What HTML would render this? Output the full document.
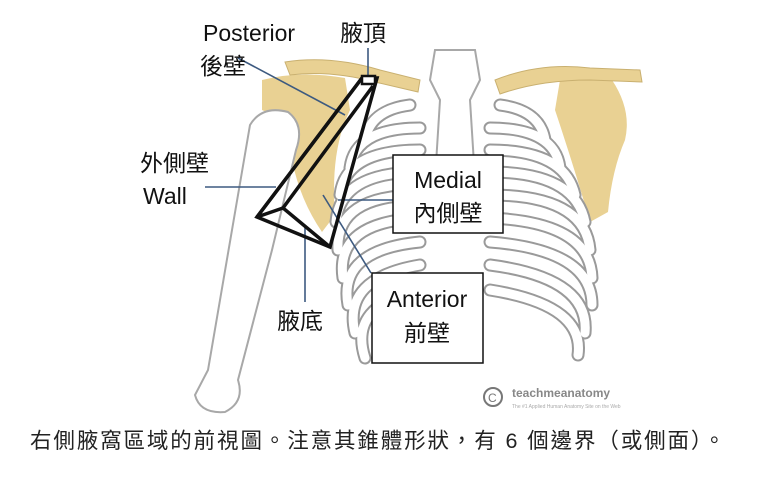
<!DOCTYPE html>
<html><head><meta charset="utf-8"><style>
body{margin:0;background:#fff;width:760px;height:482px;overflow:hidden;font-family:"Liberation Sans","Noto Sans CJK TC",sans-serif}
</style></head><body>
<svg width="760" height="482" viewBox="0 0 760 482" xmlns="http://www.w3.org/2000/svg" font-family="Liberation Sans, Noto Sans CJK TC, sans-serif">
<rect width="760" height="482" fill="#fff"/>
<path d="M262 80 Q300 70 345 78 L350 110 Q330 150 335 215 L322 232 Q300 200 292 160 Q285 120 262 110 Z" fill="#e9d193"/>
<path d="M612 80 Q600 60 560 80 L555 110 Q575 170 590 222 L608 212 Q612 170 625 140 Q632 110 612 80 Z" fill="#e9d193"/>
<path d="M285 62 Q330 55 380 70 L420 80 L418 92 L375 82 Q330 70 290 75 Z" fill="#e9d193" stroke="#c9b070" stroke-width="1"/>
<path d="M495 80 Q540 62 590 68 L640 70 L642 82 L590 80 Q540 80 500 94 Z" fill="#e9d193" stroke="#c9b070" stroke-width="1"/>
<g fill="none" stroke="#9a9a9a" stroke-width="13" stroke-linecap="round">
<path d="M410 105 Q370 110 365 140"/><path d="M500 105 Q540 110 545 140"/>
<path d="M420 128 Q355 128 350 168"/><path d="M490 128 Q555 128 560 168"/>
<path d="M420 150 Q345 150 340 195"/><path d="M490 150 Q565 150 575 195"/>
<path d="M420 172 Q340 172 336 222"/><path d="M490 172 Q575 172 585 222"/>
<path d="M420 195 Q335 195 338 250"/><path d="M490 195 Q585 195 590 250"/>
<path d="M420 218 Q335 222 343 278"/><path d="M490 218 Q590 222 592 278"/>
<path d="M420 242 Q338 250 348 305"/><path d="M490 242 Q592 250 592 305"/>
<path d="M420 265 Q342 278 355 333"/><path d="M490 265 Q590 278 585 333"/>
<path d="M420 290 Q348 305 365 358"/><path d="M490 290 Q585 305 578 355"/>
</g>
<g fill="none" stroke="#fff" stroke-width="9" stroke-linecap="round">
<path d="M410 105 Q370 110 365 140"/><path d="M500 105 Q540 110 545 140"/>
<path d="M420 128 Q355 128 350 168"/><path d="M490 128 Q555 128 560 168"/>
<path d="M420 150 Q345 150 340 195"/><path d="M490 150 Q565 150 575 195"/>
<path d="M420 172 Q340 172 336 222"/><path d="M490 172 Q575 172 585 222"/>
<path d="M420 195 Q335 195 338 250"/><path d="M490 195 Q585 195 590 250"/>
<path d="M420 218 Q335 222 343 278"/><path d="M490 218 Q590 222 592 278"/>
<path d="M420 242 Q338 250 348 305"/><path d="M490 242 Q592 250 592 305"/>
<path d="M420 265 Q342 278 355 333"/><path d="M490 265 Q590 278 585 333"/>
<path d="M420 290 Q348 305 365 358"/><path d="M490 290 Q585 305 578 355"/>
</g>
<path d="M435 50 L475 50 L480 80 L470 100 L475 180 L462 225 L448 225 L435 180 L440 100 L430 80 Z" fill="#fff" stroke="#a8a8a8" stroke-width="2"/>
<path d="M250 125 Q262 105 288 112 Q305 125 296 150 L272 250 L238 380 Q245 402 225 412 Q200 414 195 395 L208 370 L244 160 Z" fill="#fff" stroke="#a8a8a8" stroke-width="2"/>
<g stroke="#3d5a80" stroke-width="1.6" fill="none">
<line x1="238" y1="58" x2="345" y2="115"/>
<line x1="368" y1="48" x2="368" y2="76"/>
<line x1="205" y1="187" x2="276" y2="187"/>
<line x1="338" y1="200" x2="393" y2="200"/>
<line x1="323" y1="195" x2="371" y2="273"/>
<line x1="305" y1="225" x2="305" y2="302"/>
</g>
<g stroke="#111" stroke-width="3.5" fill="none" stroke-linejoin="miter">
<polygon points="257,217 330,247 377,78 362,78"/>
<line x1="362" y1="78" x2="257" y2="217"/>
<polyline points="373,86 283,208 330,247"/>
<line x1="283" y1="208" x2="257" y2="217"/>
<rect x="362" y="76" width="13" height="8" fill="#fff" stroke-width="2.5"/>
</g>
<rect x="393" y="155" width="110" height="78" fill="#fff" stroke="#111" stroke-width="1.5"/>
<rect x="372" y="273" width="111" height="90" fill="#fff" stroke="#111" stroke-width="1.5"/>
<g fill="#111" font-size="23">
<text x="448" y="188" text-anchor="middle">Medial</text>
<text x="448" y="221" text-anchor="middle">內側壁</text>
<text x="427" y="307" text-anchor="middle">Anterior</text>
<text x="427" y="341" text-anchor="middle">前壁</text>
<text x="203" y="41">Posterior</text>
<text x="200" y="74">後壁</text>
<text x="340" y="41">腋頂</text>
<text x="140" y="171">外側壁</text>
<text x="143" y="204">Wall</text>
<text x="277" y="329">腋底</text>
</g>
<circle cx="493" cy="397" r="9" fill="none" stroke="#777" stroke-width="2"/>
<text x="488" y="402" font-size="12" fill="#777">C</text>
<text x="512" y="397" font-size="12" fill="#888" font-weight="bold">teachmeanatomy</text>
<text x="512" y="408" font-size="5" fill="#aaa">The #1 Applied Human Anatomy Site on the Web</text>
<text x="30" y="448" font-size="21.5" fill="#222" textLength="695" lengthAdjust="spacing">右側腋窩區域的前視圖。注意其錐體形狀，有 6 個邊界（或側面）。</text>
</svg>
</body></html>
